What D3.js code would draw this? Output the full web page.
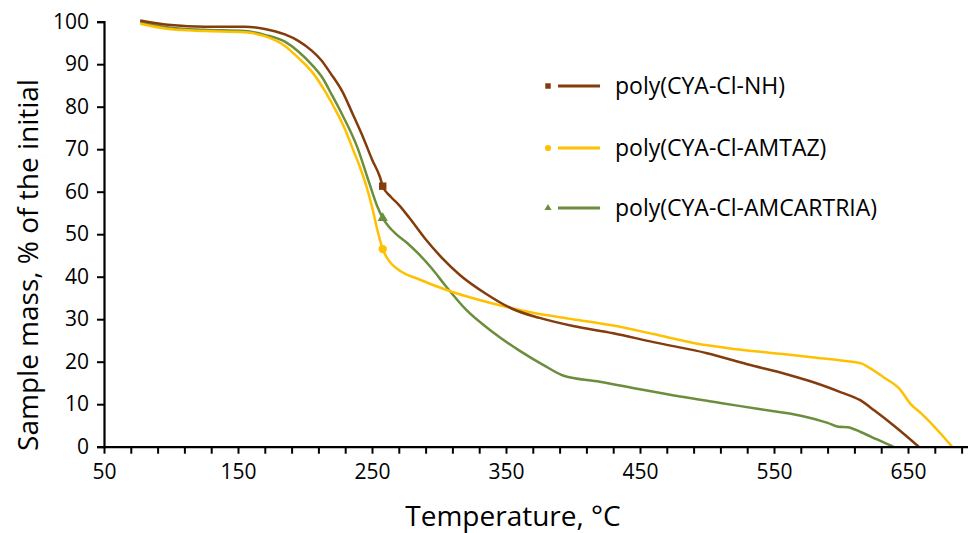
<!DOCTYPE html>
<html>
<head>
<meta charset="utf-8">
<script src="https://cdn.jsdelivr.net/npm/d3@7"></script>
<style>
  body { margin: 0; background: #fff; }
  text { font-family: "Open Sans", "Noto Sans", sans-serif; fill: #000; }
</style>
</head>
<body>
<script>
// TGA curves (temperature in °C, mass in %)
const nhTemp = [77, 100, 125, 155, 170, 185, 195, 205, 212, 219, 228, 236, 244, 250, 256, 258, 264, 270, 278, 290, 302, 316, 335, 355, 375, 400, 430, 460, 500, 530, 560, 580, 600, 614, 625, 640, 658];
const nhMass = [100.3, 99.2, 98.8, 98.8, 98.3, 97, 95.5, 93.2, 91, 87.9, 83.5, 78, 72.3, 67.6, 63.4, 61.3, 58.8, 56.9, 53.8, 48.8, 44.5, 40.3, 36, 32.4, 30.3, 28.4, 26.7, 24.6, 22, 19.4, 17, 15.1, 12.8, 11, 8.5, 4.8, 0];

const amtazTemp = [77, 100, 125, 155, 170, 185, 195, 206, 215, 224, 230, 236, 241, 246, 250, 254, 258, 263, 270, 285, 310, 340, 370, 400, 430, 460, 490, 520, 550, 580, 605, 615, 620, 632, 644, 652, 660, 683];
const amtazMass = [99.5, 98.2, 97.8, 97.5, 96.6, 94.3, 91.5, 87.9, 83.6, 78.5, 74.6, 69.8, 65.8, 61.1, 56.5, 51, 46.5, 43.6, 41.6, 39.4, 36.4, 33.7, 31.5, 30, 28.5, 26.5, 24.4, 23, 22, 21, 20.1, 19.6, 18.8, 16.3, 13.5, 10, 7.8, 0];

const amcTemp = [77, 100, 125, 155, 170, 185, 195, 205, 213, 220, 228, 239, 248, 254, 258, 262, 268, 276, 285, 295, 305, 320, 340, 360, 378, 393, 420, 450, 480, 510, 540, 570, 590, 598, 605, 615, 627, 639];
const amcMass = [99.9, 98.6, 98.1, 97.8, 96.9, 95.3, 93, 89.9, 86.8, 82.8, 78, 70.5, 62, 56.5, 53.8, 52, 50, 48, 45.3, 41.8, 37.8, 32.3, 27, 22.6, 19.2, 16.7, 15.3, 13.5, 11.8, 10.3, 8.8, 7.3, 5.6, 4.7, 4.6, 3.4, 1.7, 0];

const seriesNames = ["poly(CYA-Cl-NH)", "poly(CYA-Cl-AMTAZ)", "poly(CYA-Cl-AMCARTRIA)"];
const seriesColors = ["#843C0C", "#FFC000", "#6B8E3D"];
const markerShapes = ["square", "circle", "triangle"];
const markerTemp = 258; // the single marked point on each curve

const yTicks = [0, 10, 20, 30, 40, 50, 60, 70, 80, 90, 100];
const xLabels = [50, 150, 250, 350, 450, 550, 650];

const width = 968, height = 533;

const svg = d3.select("body").append("svg")
    .attr("width", width)
    .attr("height", height);

const x = d3.scaleLinear().domain([50, 700]).range([104, 975]);
const y = d3.scaleLinear().domain([0, 100]).range([446.7, 21.7]);

const series = [
    { name: seriesNames[0], color: seriesColors[0], shape: markerShapes[0], pts: d3.zip(nhTemp, nhMass) },
    { name: seriesNames[1], color: seriesColors[1], shape: markerShapes[1], pts: d3.zip(amtazTemp, amtazMass) },
    { name: seriesNames[2], color: seriesColors[2], shape: markerShapes[2], pts: d3.zip(amcTemp, amcMass) }
];

const symbolType = { square: d3.symbolSquare, circle: d3.symbolCircle, triangle: d3.symbolTriangle };

// curves
const line = d3.line()
    .x(d => x(d[0]))
    .y(d => y(d[1]))
    .curve(d3.curveMonotoneX);

// draw green first, then yellow, brown on top
[2, 1, 0].forEach(i => {
    const s = series[i];
    svg.append("path")
        .attr("d", line(s.pts))
        .attr("fill", "none")
        .attr("stroke", s.color)
        .attr("stroke-width", 2.5)
        .attr("stroke-linejoin", "round");

    const mp = s.pts.find(p => p[0] === markerTemp);
    svg.append("path")
        .attr("d", d3.symbol().type(symbolType[s.shape]).size(s.shape === "triangle" ? 45 : 55)())
        .attr("transform", `translate(${x(mp[0])},${y(mp[1])})`)
        .attr("fill", s.color);
});

// y axis
const yAxis = svg.append("g")
    .attr("transform", `translate(${x(50)},0)`)
    .call(d3.axisLeft(y).tickValues(yTicks).tickSize(7).tickPadding(8).tickFormat(d3.format("d")));
yAxis.select(".domain").attr("stroke", "#000").attr("stroke-width", 2.2);
yAxis.selectAll(".tick line").attr("stroke", "#000").attr("stroke-width", 2);
yAxis.selectAll("text").style("font-size", "21px").attr("fill", "#000");

// x axis: minor ticks every 20, labels every 100
const xMinor = d3.range(50, 700, 20);
const xAxis = svg.append("g")
    .attr("transform", `translate(0,${y(0)})`)
    .call(d3.axisBottom(x).tickValues(xMinor).tickSize(7).tickSizeOuter(0).tickPadding(10)
        .tickFormat(d => xLabels.includes(d) ? d : ""));
xAxis.select(".domain").attr("stroke", "#000").attr("stroke-width", 2.2);
xAxis.selectAll(".tick line").attr("stroke", "#000").attr("stroke-width", 2);
xAxis.selectAll("text").style("font-size", "21px").attr("fill", "#000");

// axis titles
svg.append("text")
    .attr("x", 513)
    .attr("y", 526)
    .attr("text-anchor", "middle")
    .style("font-size", "28px")
    .text("Temperature, \u00B0C");

svg.append("text")
    .attr("transform", "translate(38,265) rotate(-90)")
    .attr("text-anchor", "middle")
    .style("font-size", "28px")
    .text("Sample mass, % of the initial");

// legend
const legend = svg.append("g");
const legendY = [86, 148, 208];
series.forEach((s, i) => {
    const g = legend.append("g").attr("transform", `translate(0,${legendY[i]})`);
    g.append("path")
        .attr("d", d3.symbol().type(symbolType[s.shape]).size(s.shape === "triangle" ? 22 : 30)())
        .attr("transform", "translate(548,0)")
        .attr("fill", s.color);
    g.append("line")
        .attr("x1", 558).attr("x2", 600)
        .attr("stroke", s.color)
        .attr("stroke-width", 3);
    g.append("text")
        .attr("x", 615)
        .attr("dy", "0.35em")
        .style("font-size", "23px")
        .text(s.name);
});
</script>
</body>
</html>
